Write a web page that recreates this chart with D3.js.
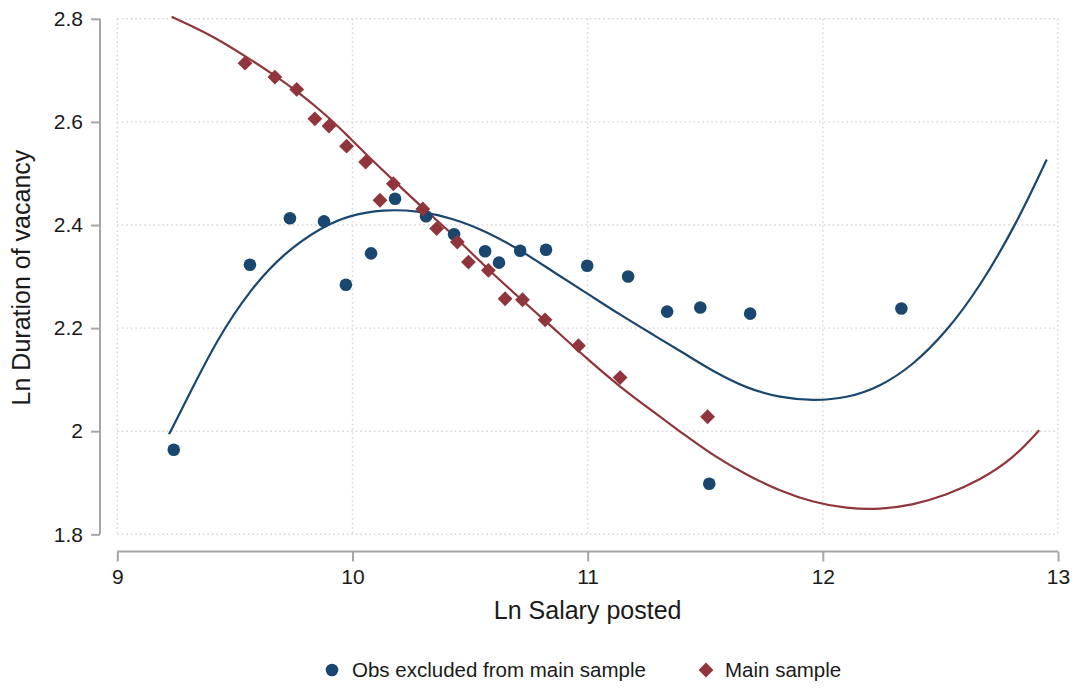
<!DOCTYPE html>
<html>
<head>
<meta charset="utf-8">
<script src="https://cdn.jsdelivr.net/npm/d3@7"></script>
<style>
  html, body { margin: 0; padding: 0; background: #fff; }
  svg { display: block; font-family: "Liberation Sans", Arial, sans-serif; }
</style>
</head>
<body>
<svg id="chart" width="1078" height="688"></svg>
<script>
// ---- Data ----
const xTicks = [9, 10, 11, 12, 13];
const yTicks = [1.8, 2, 2.2, 2.4, 2.6, 2.8];
const yTickLabels = ["1.8", "2", "2.2", "2.4", "2.6", "2.8"];

// Obs excluded from main sample (circles)
const excludedX = [9.240, 9.564, 9.734, 9.879, 9.972, 10.079, 10.181, 10.313, 10.432, 10.564,
                   10.623, 10.713, 10.823, 10.998, 11.172, 11.338, 11.479, 11.691, 12.334, 11.517];
const excludedY = [1.964, 2.323, 2.413, 2.407, 2.284, 2.345, 2.451, 2.417, 2.382, 2.349,
                   2.327, 2.350, 2.352, 2.321, 2.300, 2.232, 2.240, 2.228, 2.238, 1.898];

// Main sample (diamonds)
const mainX = [9.543, 9.670, 9.763, 9.840, 9.900, 9.975, 10.056, 10.117, 10.174, 10.299,
               10.358, 10.446, 10.493, 10.578, 10.649, 10.723, 10.819, 10.961, 11.138, 11.510];
const mainY = [2.714, 2.687, 2.663, 2.606, 2.592, 2.553, 2.522, 2.448, 2.480, 2.431,
               2.393, 2.367, 2.328, 2.312, 2.257, 2.255, 2.216, 2.166, 2.104, 2.028];

// Fitted curve for excluded obs
const fitExclX = [9.220, 9.309, 9.423, 9.564, 9.706, 9.876, 9.989, 10.131, 10.273, 10.429,
                  10.571, 10.712, 10.854, 10.996, 11.137, 11.279, 11.421, 11.534, 11.676, 11.818,
                  11.959, 12.101, 12.243, 12.384, 12.526, 12.668, 12.824, 12.952];
const fitExclY = [1.994, 2.074, 2.177, 2.274, 2.345, 2.398, 2.419, 2.430, 2.428, 2.413,
                  2.387, 2.352, 2.309, 2.268, 2.226, 2.187, 2.148, 2.116, 2.083, 2.065,
                  2.059, 2.064, 2.086, 2.128, 2.193, 2.280, 2.403, 2.527];

// Fitted curve for main sample
const fitMainX = [9.231, 9.394, 9.543, 9.671, 9.763, 9.897, 9.975, 10.060, 10.173, 10.301,
                  10.429, 10.571, 10.712, 10.854, 10.996, 11.137, 11.279, 11.405, 11.534, 11.676,
                  11.818, 11.959, 12.101, 12.243, 12.384, 12.526, 12.668, 12.810, 12.920];
const fitMainY = [2.804, 2.770, 2.728, 2.690, 2.660, 2.610, 2.575, 2.536, 2.487, 2.432,
                  2.381, 2.316, 2.258, 2.200, 2.141, 2.086, 2.038, 1.995, 1.953, 1.915,
                  1.884, 1.862, 1.850, 1.848, 1.857, 1.876, 1.905, 1.947, 2.002];

const legendLabels = ["Obs excluded from main sample", "Main sample"];

// ---- Styles ----
const BLUE = "#1a476f", RED = "#90353b";
const AXIS = "#a6a6a6", GRID = "#d4d4d4", TEXT = "#1a1a1a";

const svg = d3.select("#chart");

const x = d3.scaleLinear().domain([9, 13]).range([117.3, 1058]);
const y = d3.scaleLinear().domain([1.8, 2.8]).range([534.3, 18.8]);

// grid
const grid = svg.append("g");
grid.selectAll("line.v").data(xTicks).join("line")
  .attr("x1", d => x(d)).attr("x2", d => x(d))
  .attr("y1", y(2.8)).attr("y2", y(1.8))
  .attr("stroke", GRID).attr("stroke-width", 1.4).attr("stroke-dasharray", "1.5,3");
grid.selectAll("line.h").data(yTicks).join("line")
  .attr("x1", x(9)).attr("x2", x(13))
  .attr("y1", d => y(d)).attr("y2", d => y(d))
  .attr("stroke", GRID).attr("stroke-width", 1.4).attr("stroke-dasharray", "1.5,3");

// y axis
const yAxis = d3.axisLeft(y).tickValues(yTicks)
  .tickFormat((d, i) => yTickLabels[i]).tickSize(9).tickPadding(8);
const gy = svg.append("g").attr("transform", "translate(100,0)").call(yAxis);
gy.select(".domain").attr("stroke", AXIS).attr("stroke-width", 2).attr("d", `M0,${y(2.8)}V${y(1.8)}`);
gy.selectAll(".tick line").attr("stroke", AXIS).attr("stroke-width", 2);
gy.selectAll(".tick text").attr("fill", TEXT).style("font-size", "21px")
  .style("font-family", '"Liberation Sans", Arial, sans-serif');

// x axis
const xAxis = d3.axisBottom(x).tickValues(xTicks).tickFormat(d3.format("d")).tickSize(10).tickPadding(8);
const gx = svg.append("g").attr("transform", "translate(0,551.5)").call(xAxis);
gx.select(".domain").attr("stroke", AXIS).attr("stroke-width", 2).attr("d", `M${x(9)},0H${x(13)}`);
gx.selectAll(".tick line").attr("stroke", AXIS).attr("stroke-width", 2);
gx.selectAll(".tick text").attr("fill", TEXT).style("font-size", "21px")
  .style("font-family", '"Liberation Sans", Arial, sans-serif');

// titles
svg.append("text").attr("x", (x(9) + x(13)) / 2).attr("y", 619)
  .attr("text-anchor", "middle").attr("fill", TEXT).style("font-size", "25px")
  .text("Ln Salary posted");
svg.append("text").attr("transform", `translate(30,${(y(1.8) + y(2.8)) / 2 + 1}) rotate(-90)`)
  .attr("text-anchor", "middle").attr("fill", TEXT).style("font-size", "25px")
  .text("Ln Duration of vacancy");

// fit lines
const line = d3.line().x(d => x(d[0])).y(d => y(d[1])).curve(d3.curveBasis);
svg.append("path").datum(d3.zip(fitExclX, fitExclY)).attr("d", line)
  .attr("fill", "none").attr("stroke", BLUE).attr("stroke-width", 2.2);
svg.append("path").datum(d3.zip(fitMainX, fitMainY)).attr("d", line)
  .attr("fill", "none").attr("stroke", RED).attr("stroke-width", 2.2);

// markers
const diamond = d3.symbol().type(d3.symbolSquare).size(110);
svg.append("g").selectAll("circle").data(d3.zip(excludedX, excludedY)).join("circle")
  .attr("cx", d => x(d[0])).attr("cy", d => y(d[1])).attr("r", 6.3)
  .attr("fill", BLUE);
svg.append("g").selectAll("path").data(d3.zip(mainX, mainY)).join("path")
  .attr("d", diamond)
  .attr("transform", d => `translate(${x(d[0])},${y(d[1])}) rotate(45)`)
  .attr("fill", RED);

// legend
const lg = svg.append("g");
lg.append("circle").attr("cx", 332).attr("cy", 670).attr("r", 6.3).attr("fill", BLUE);
lg.append("text").attr("x", 352).attr("y", 677).attr("fill", TEXT).style("font-size", "20.5px")
  .text(legendLabels[0]);
lg.append("path").attr("d", diamond).attr("transform", "translate(706,670) rotate(45)").attr("fill", RED);
lg.append("text").attr("x", 725).attr("y", 677).attr("fill", TEXT).style("font-size", "20.5px")
  .text(legendLabels[1]);
</script>
</body>
</html>
